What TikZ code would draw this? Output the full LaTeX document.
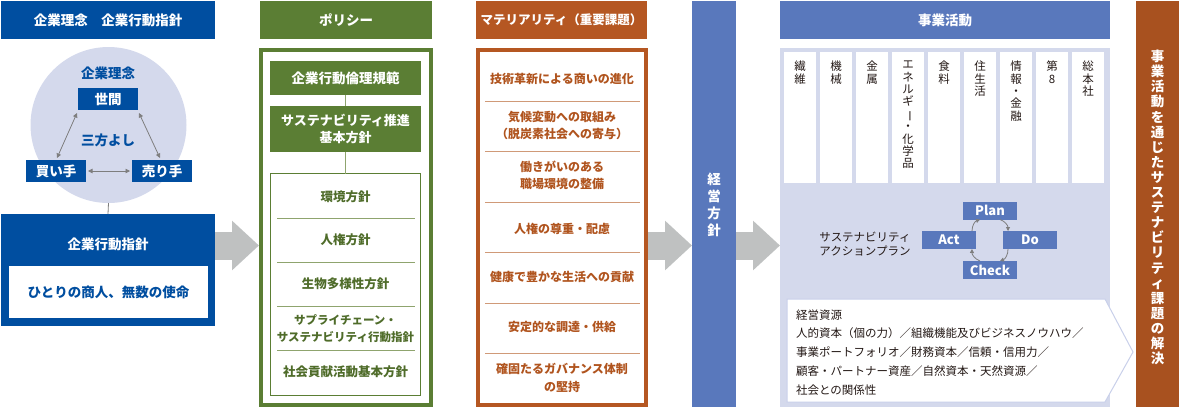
\documentclass[tikz,border=0pt]{standalone}
\usepackage{fontspec}
\setmainfont{Noto Sans CJK JP}
\usetikzlibrary{arrows.meta,calc}
\definecolor{dblue}{HTML}{004EA0}
\definecolor{lav}{HTML}{D4D9EC}
\definecolor{lavline}{HTML}{C9D0EA}
\definecolor{pgreen}{HTML}{5B7E34}
\definecolor{lgreen}{HTML}{8FA46E}
\definecolor{tgreen}{HTML}{4F6C2A}
\definecolor{brown}{HTML}{B55722}
\definecolor{tbrown}{HTML}{B0541E}
\definecolor{lbrown}{HTML}{D09A78}
\definecolor{rbrown}{HTML}{A8511F}
\definecolor{mblue}{HTML}{5978BC}
\definecolor{agray}{HTML}{BFC1C1}
\definecolor{lgray}{HTML}{7E7E7E}
\definecolor{ink}{HTML}{231815}
\newcommand{\fz}[2]{\fontsize{#1}{#2}\selectfont}
\begin{document}
\begin{tikzpicture}[x=1pt,y=-1pt,
  every node/.style={inner sep=0pt, outer sep=0pt},
  hdtext/.style={text=white, font=\fz{13.5}{16}\bfseries},
  bluetext/.style={text=dblue, font=\fz{13.5}{16}\bfseries},
  wbox/.style={text=white, font=\fz{13.5}{16}\bfseries, align=center},
  gtext/.style={text=tgreen, font=\fz{12.5}{17}\bfseries, align=center},
  btext/.style={text=tbrown, font=\fz{12}{17}\bfseries, align=center},
  vtext/.style={text=ink, font=\fz{11.5}{12.4}, align=center},
  pdca/.style={fill=mblue, text=white, font=\fz{13}{15}\bfseries, minimum width=54, minimum height=18},
  tri/.style={lgray, line width=0.8pt, {Triangle[length=4.5pt,width=4.5pt]}-{Triangle[length=4.5pt,width=4.5pt]}},
  cyc/.style={lgray, line width=0.8pt, -{Triangle[length=4pt,width=4pt]}, bend left=35},
  bigarrow/.style={agray, line width=28pt, -{Triangle[length=27pt,width=48pt]}},
  conn/.style={lgreen, line width=0.9pt}
]
\useasboundingbox (0,0) rectangle (1180,408);

% ---------------- left column ----------------
\node[fill=dblue, minimum width=214, minimum height=38, hdtext] (h1) at (108,20) {企業理念　企業行動指針};
\node[circle, fill=lav, minimum size=156] (circ) at (108.5,125) {};
\node[bluetext] (rinen) at (108,73) {企業理念};
\node[fill=dblue, minimum width=60, minimum height=22, wbox] (sekan) at (108,99) {世間};
\node[bluetext] (sanpo) at (108,140) {三方よし};
\node[fill=dblue, minimum width=60, minimum height=22, wbox] (kaite) at (56,171) {買い手};
\node[fill=dblue, minimum width=60, minimum height=22, wbox] (urite) at (162,171) {売り手};
\draw[tri] ([xshift=-1pt,yshift=-3pt]sekan.south west) -- ([xshift=1pt,yshift=2pt]kaite.north);
\draw[tri] ([xshift=1pt,yshift=-3pt]sekan.south east) -- ([xshift=-2pt,yshift=2pt]urite.north);
\draw[tri] ([xshift=2pt]kaite.east) -- ([xshift=-2pt]urite.west);
\node[fill=dblue, minimum width=214, minimum height=112] (lb) at (108,270) {};
\draw[lgray, line width=0.8pt] (circ.south) -- (lb.north);
\node[hdtext] (kodo) at (108,244) {企業行動指針};
\node[fill=white, minimum width=199, minimum height=52, bluetext] (mission) at (108.5,292) {ひとりの商人、無数の使命};

% ---------------- policy column ----------------
\node[fill=pgreen, minimum width=172, minimum height=38, hdtext] (h2) at (346,20) {ポリシー};
\node[draw=pgreen, line width=4pt, outer sep=2pt, minimum width=170, minimum height=355] (pframe) at (346,227.5) {};
\node[fill=pgreen, minimum width=151, minimum height=34, wbox] (pb1) at (345.5,78) {企業行動倫理規範};
\node[fill=pgreen, minimum width=151, minimum height=46, wbox, font=\fz{13}{17}\bfseries] (pb2) at (345.5,129) {サステナビリティ推進\\基本方針};
\node[draw=pgreen, line width=1.2pt, minimum width=150, minimum height=222] (plist) at (345.5,284.5) {};
\draw[conn] (pb1.south) -- (pb2.north);
\draw[conn] (pb2.south) -- (plist.north);
\foreach \yy in {218,262,306,350} \draw[lgreen, line width=1pt] (277,\yy) -- (415,\yy);
\node[gtext] (p1) at (345.5,197) {環境方針};
\node[gtext] (p2) at (345.5,240) {人権方針};
\node[gtext] (p3) at (345.5,284) {生物多様性方針};
\node[gtext, font=\fz{11.5}{17}\bfseries] (p4) at (345.5,328.5) {サプライチェーン・\\サステナビリティ行動指針};
\node[gtext] (p5) at (345.5,372) {社会貢献活動基本方針};

% ---------------- materiality column ----------------
\node[fill=brown, minimum width=171, minimum height=38, hdtext, font=\fz{12.5}{16}\bfseries] (h3) at (561.5,20) {マテリアリティ（重要課題）};
\node[draw=brown, line width=4pt, outer sep=2pt, minimum width=168, minimum height=355] (mframe) at (562,227.5) {};
\foreach \yy in {101,151,202,252,303,353} \draw[lbrown, line width=0.9pt] (485,\yy) -- (640,\yy);
\node[btext] (m1) at (562,79) {技術革新による商いの進化};
\node[btext] (m2) at (562,125.5) {気候変動への取組み\\（脱炭素社会への寄与）};
\node[btext] (m3) at (562,175.5) {働きがいのある\\職場環境の整備};
\node[btext] (m4) at (562,229) {人権の尊重・配慮};
\node[btext] (m5) at (562,277) {健康で豊かな生活への貢献};
\node[btext] (m6) at (562,327) {安定的な調達・供給};
\node[btext, font=\fz{12}{18}\bfseries] (m7) at (562,378) {確固たるガバナンス体制\\の堅持};

% ---------------- management policy bar ----------------
\node[fill=mblue, minimum width=44, minimum height=406] (kbar) at (714,204) {};
\node[text=white, font=\fz{13.5}{17}\bfseries, align=center] (kbt) at (714,205) {経\\営\\方\\針};

% ---------------- business activities ----------------
\node[fill=mblue, minimum width=330, minimum height=38, hdtext] (h4) at (945,20) {事業活動};
\node[fill=lav, minimum width=330, minimum height=359] (body) at (945,227.5) {};
\foreach \i in {0,...,8} {
  \node[fill=white, minimum width=32, minimum height=131] (col\i) at ({800+36*\i},117.5) {};
}
\node[vtext, anchor=north] (c0) at (col0.north |- 0,61) {繊\\維};
\node[vtext, anchor=north] (c1) at (col1.north |- 0,61) {機\\械};
\node[vtext, anchor=north] (c2) at (col2.north |- 0,61) {金\\属};
\node[vtext, anchor=north] (c3) at (col3.north |- 0,61) {エ\\ネ\\ル\\ギ\\\rotatebox[origin=c]{-90}{ー}\\・\\化\\学\\品};
\node[vtext, anchor=north] (c4) at (col4.north |- 0,61) {食\\料};
\node[vtext, anchor=north] (c5) at (col5.north |- 0,61) {住\\生\\活};
\node[vtext, anchor=north] (c6) at (col6.north |- 0,61) {情\\報\\・\\金\\融};
\node[vtext, anchor=north] (c7) at (col7.north |- 0,61) {第\\8};
\node[vtext, anchor=north] (c8) at (col8.north |- 0,61) {総\\本\\社};

\node[text=ink, font=\fz{11.5}{14.5}, align=center] (sap) at (865,244) {サステナビリティ\\アクションプラン};
\node[pdca] (plan) at (990,210.5) {Plan};
\node[pdca] (act) at (949,240) {Act};
\node[pdca] (do) at (1030,240) {Do};
\node[pdca] (check) at (990,270) {Check};
\draw[cyc] ([xshift=-4pt]act.north east) to ([xshift=17pt]plan.south west);
\draw[cyc] ([xshift=-17pt]plan.south east) to ([xshift=5pt]do.north west);
\draw[cyc] ([xshift=5pt]do.south west) to ([xshift=-17pt]check.north east);
\draw[cyc] ([xshift=17pt]check.north west) to ([xshift=-4pt]act.south east);

\draw[fill=white, draw=lavline, line width=1pt] (787,299) -- (1105,299) -- (1133,352) -- (1105,402) -- (787,402) -- cycle;
\node[anchor=north west, text=ink, font=\fz{11.5}{18.8}, align=left] (res) at (796,309.5) {経営資源\\人的資本（個の力）／組織機能及びビジネスノウハウ／\\事業ポートフォリオ／財務資本／信頼・信用力／\\顧客・パートナー資産／自然資本・天然資源／\\社会との関係性};

% ---------------- right bar ----------------
\node[fill=rbrown, minimum width=43, minimum height=406] (rbar) at (1157.5,204) {};
\node[text=white, font=\fz{13.5}{15.1}\bfseries, align=center] (rbt) at (1157.5,207.5) {事\\業\\活\\動\\を\\通\\じ\\た\\サ\\ス\\テ\\ナ\\ビ\\リ\\テ\\ィ\\課\\題\\の\\解\\決};

% ---------------- big arrows ----------------
\draw[bigarrow] (lb.east |- 0,245.5) -- (pframe.west |- 0,245.5);
\draw[bigarrow] (mframe.east |- 0,245.5) -- (kbar.west |- 0,245.5);
\draw[bigarrow] (kbar.east |- 0,245.5) -- (body.west |- 0,245.5);
\end{tikzpicture}
\end{document}
